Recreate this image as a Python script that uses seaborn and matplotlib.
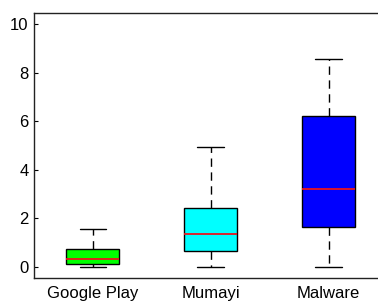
import pandas as pd
import numpy as np
import matplotlib
matplotlib.use("Agg")
import matplotlib.pyplot as plt
import seaborn as sns

# box stats: min, q1, median, q3, max
groups = ['Google Play', 'Mumayi', 'Malware']
mins = [0.0, 0.0, 0.0]
q1s = [0.12, 0.66, 1.66]
medians = [0.33, 1.35, 3.2]
q3s = [0.72, 2.43, 6.21]
maxs = [1.54, 4.94, 8.55]
colors = ['#00ff00', '#00ffff', '#0000ff']

# five points per group so the quartiles land exactly on the read values
rows = []
for g, a, b, c, d, e in zip(groups, mins, q1s, medians, q3s, maxs):
    for v in (a, b, c, d, e):
        rows.append({'group': g, 'value': v})
df = pd.DataFrame(rows)

sns.set_style('white')
plt.rcParams['font.family'] = ['Liberation Sans', 'DejaVu Sans']

fig = plt.figure(figsize=(3.78, 3.02), dpi=100)
ax = fig.add_axes([0.09, 0.08, 0.91, 0.877])

sns.boxplot(data=df, x='group', y='value', hue='group', palette=colors,
            legend=False, width=0.45, whis=(0, 100), saturation=1,
            linewidth=1, linecolor='black',
            boxprops={'edgecolor': 'black'},
            whiskerprops={'color': 'black', 'linestyle': (0, (6, 4))},
            capprops={'color': 'black'},
            medianprops={'color': '#e8141c', 'linewidth': 1.3},
            ax=ax)

ax.set_xlim(-0.5, 2.42)
ax.set_ylim(-0.45, 10.45)
ax.set_yticks([0, 2, 4, 6, 8, 10])
ax.set_xlabel('')
ax.set_ylabel('')
ax.tick_params(axis='y', direction='in', length=3, labelsize=12, pad=4,
               left=True, colors='black')
ax.tick_params(axis='x', length=0, labelsize=12, pad=6, labelcolor='black')
for s in ['left', 'bottom', 'top']:
    ax.spines[s].set_color('#222222')
    ax.spines[s].set_linewidth(1)
ax.spines['right'].set_visible(False)

fig.savefig('out.png', dpi=100)
plt.close()
